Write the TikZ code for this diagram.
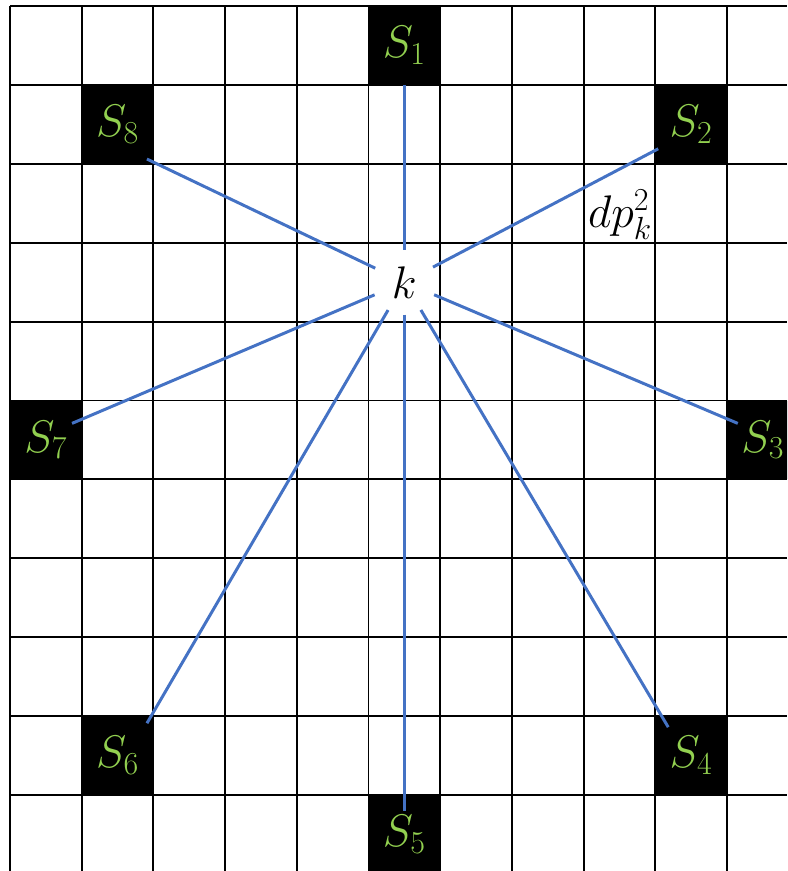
\RequirePackage{fix-cm}
\documentclass[tikz,border=0pt]{standalone}
\usepackage{amsmath}
\usepackage{tikz}
\usetikzlibrary{positioning}
\definecolor{myblue}{RGB}{68,114,196}
\definecolor{mygreen}{RGB}{146,208,80}
\tikzset{
  gridline/.style={line width=1.1pt, color=black},
  srcbox/.style={rectangle, fill=black, text=mygreen,
    minimum width=1.434cm, minimum height=1.578cm, inner sep=0pt,
    font=\fontsize{26}{30}\selectfont},
  centre/.style={circle, minimum size=1.28cm, inner sep=0pt,
    font=\fontsize{26}{30}\selectfont},
  lbl/.style={inner sep=0pt, font=\fontsize{26}{30}\selectfont},
  ray/.style={line width=1.7pt, color=myblue}
}

\begin{document}
\begin{tikzpicture}[x=1.434cm, y=-1.578cm]
  \useasboundingbox (-0.1395,-0.076) rectangle (10.837,10.963);
  \clip (-0.1395,-0.076) rectangle (10.837,10.963);
  % Grid
  \foreach \c in {0,...,10}
    \draw[gridline] (\c,0) -- (\c,10.963);
  \foreach \r in {0,...,10}
    \draw[gridline] (0,\r) -- (10.837,\r);
  % Source cells
  \node[srcbox] (s1) at (5.5,0.5) {$S_1$};
  \node[srcbox] (s2) at (9.5,1.5) {$S_2$};
  \node[srcbox] (s3) at (10.5,5.5) {$S_3$};
  \node[srcbox] (s4) at (9.5,9.5) {$S_4$};
  \node[srcbox] (s5) at (5.5,10.5) {$S_5$};
  \node[srcbox] (s6) at (1.5,9.5) {$S_6$};
  \node[srcbox] (s7) at (0.5,5.5) {$S_7$};
  \node[srcbox] (s8) at (1.5,1.5) {$S_8$};
  % Centre cell and distance label
  \node[centre] (k) at (5.5,3.5) {$k$};
  \node[lbl] (dp) at (8.51,2.65) {$dp_k^2$};
  % Ray ends
  \coordinate (e1) at (5.5,1.0);
  \coordinate (e2) at (9.04,1.81);
  \coordinate (e3) at (10.15,5.29);
  \coordinate (e4) at (9.18,9.14);
  \coordinate (e5) at (5.5,10.2);
  \coordinate (e6) at (1.91,9.09);
  \coordinate (e7) at (0.865,5.29);
  \coordinate (e8) at (1.91,1.94);
  \foreach \i in {1,...,8}
    \draw[ray] (k) -- (e\i);
\end{tikzpicture}
\end{document}
